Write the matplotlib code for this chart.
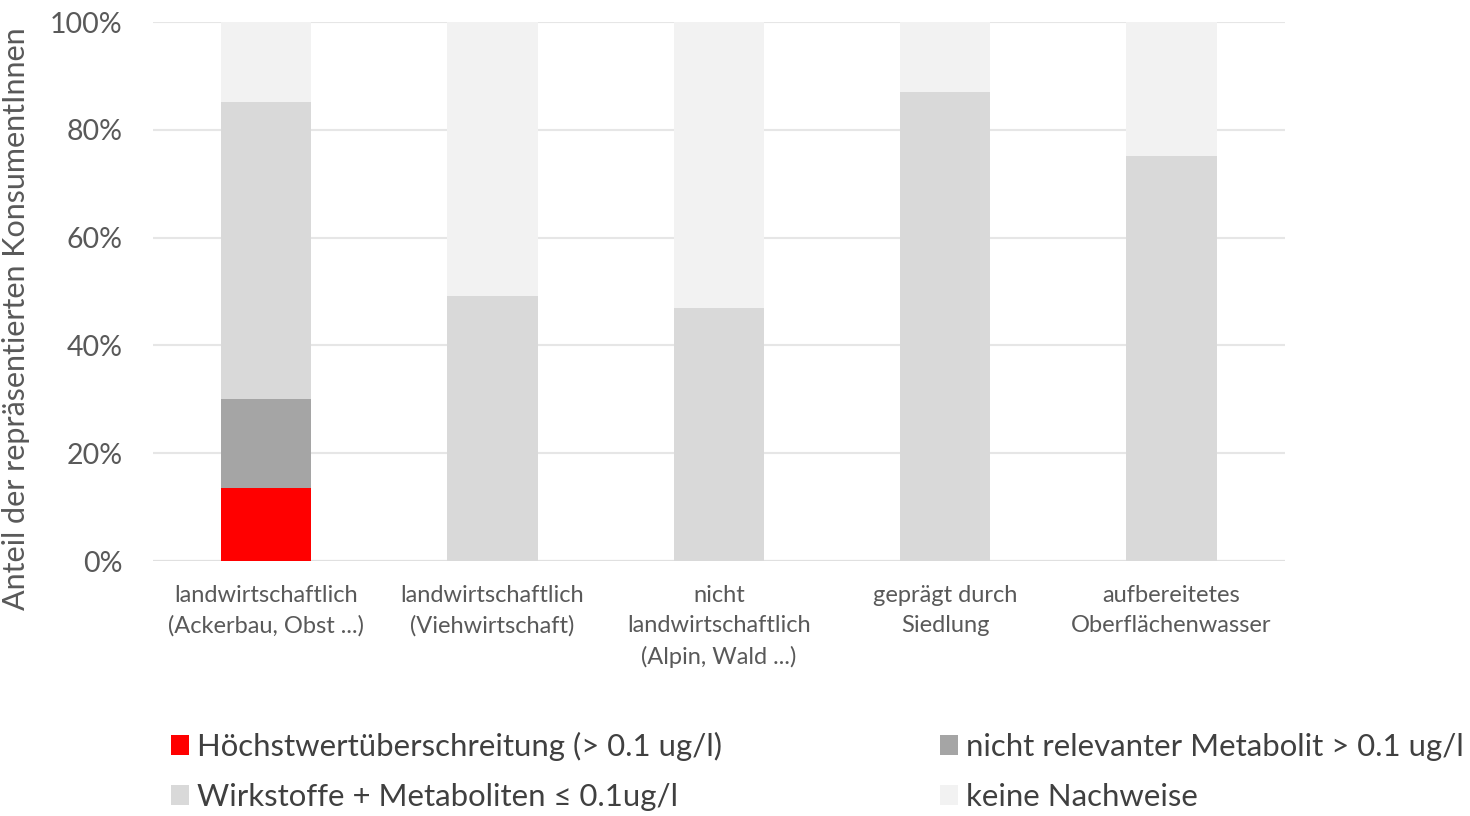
import matplotlib.pyplot as plt
import numpy as np

plt.rcParams['font.family'] = ['Lato', 'DejaVu Sans']

categories = [
    "landwirtschaftlich\n(Ackerbau, Obst ...)",
    "landwirtschaftlich\n(Viehwirtschaft)",
    "nicht\nlandwirtschaftlich\n(Alpin, Wald ...)",
    "geprägt durch\nSiedlung",
    "aufbereitetes\nOberflächenwasser",
]
hoechstwert = [13.5, 0, 0, 0, 0]
nicht_relevant = [16.6, 0, 0, 0, 0]
wirkstoffe = [55.1, 49.2, 46.9, 87.0, 75.1]
keine = [14.8, 50.8, 53.1, 13.0, 24.9]

series = [
    ("Höchstwertüberschreitung (> 0.1 ug/l)", hoechstwert, "#ff0000"),
    ("nicht relevanter Metabolit > 0.1 ug/l", nicht_relevant, "#a5a5a5"),
    ("Wirkstoffe + Metaboliten ≤ 0.1ug/l", wirkstoffe, "#d9d9d9"),
    ("keine Nachweise", keine, "#f2f2f2"),
]

fig = plt.figure(figsize=(14.7, 8.16), dpi=100)
ax = fig.add_axes([0.104, 0.3125, 0.770, 0.6605])

x = np.arange(len(categories))
bottom = np.zeros(len(categories))
handles = {}
for label, vals, color in series:
    vals = np.array(vals, dtype=float)
    b = ax.bar(x, vals, 0.4, bottom=bottom, color=color, label=label, zorder=2)
    handles[label] = b
    bottom += vals

ax.set_xlim(-0.5, 4.5)
ax.set_ylim(0, 100)
ax.set_yticks(np.arange(0, 101, 20))
ax.set_yticklabels([f"{v}%" for v in range(0, 101, 20)])
ax.yaxis.grid(True, color="#e6e6e6", linewidth=1.5, zorder=0)
ax.set_axisbelow(True)
for s in ax.spines.values():
    s.set_visible(False)
ax.axhline(0, color="#e0e0e0", linewidth=1.5, zorder=1)
ax.tick_params(axis="both", length=0)
ax.tick_params(axis="y", labelsize=20.5, labelcolor="#595959", pad=22)
ax.set_xticks(x)
ax.set_xticklabels(categories, fontsize=17, color="#595959", linespacing=1.55)
ax.tick_params(axis="x", pad=17)
ax.set_ylabel("Anteil der repräsentierten KonsumentInnen", fontsize=22,
              color="#595959")
ax.yaxis.set_label_coords(-0.109, 0.45)

order = [series[0][0], series[2][0], series[1][0], series[3][0]]
fig.legend([handles[k] for k in order], order, ncol=2, loc="center left",
           bbox_to_anchor=(0.097, 0.0545), frameon=False, fontsize=22.4,
           handlelength=0.6, handleheight=0.6, handletextpad=0.25,
           columnspacing=7.0, labelspacing=0.7, labelcolor="#404040")

fig.savefig("out.png", dpi=100)
